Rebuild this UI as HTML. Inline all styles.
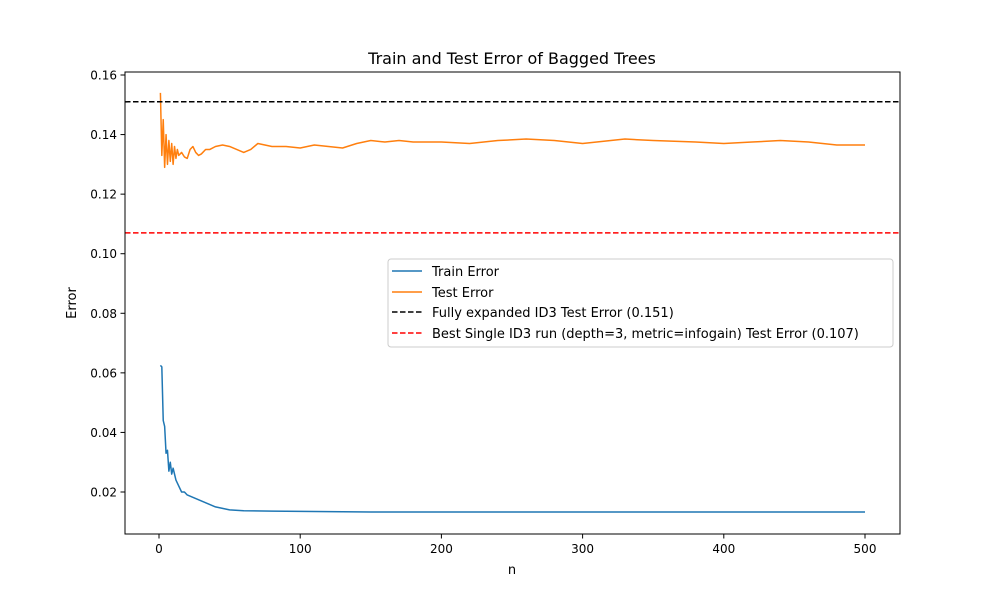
<!DOCTYPE html>
<html><head><meta charset="utf-8"><style>
body{margin:0;background:#fff;font-family:"Liberation Sans","DejaVu Sans",sans-serif}
svg text{font-family:"DejaVu Sans","Liberation Sans",sans-serif}
</style></head><body>
<svg id="chart" width="1000" height="600" xmlns="http://www.w3.org/2000/svg">
<rect width="1000" height="600" fill="#fff"/>
<text x="512" y="64" font-size="16" text-anchor="middle">Train and Test Error of Bagged Trees</text>
<g id="plot"></g>
<rect x="125" y="72" width="775" height="462" fill="none" stroke="#000" stroke-width="1"/>
<text x="512" y="574" font-size="13" text-anchor="middle">n</text>
<text x="76" y="303" font-size="13" text-anchor="middle" transform="rotate(-90 76 303)">Error</text>
<g>
<rect x="388" y="259" width="505" height="88" rx="3" fill="#fff" fill-opacity="0.8" stroke="#ccc"/>
<g><line x1="392" x2="422" y1="271" y2="271" stroke="#1f77b4" stroke-width="1.5"/><text x="432" y="276" font-size="13">Train Error</text></g>
<g><line x1="392" x2="422" y1="292" y2="292" stroke="#ff7f0e" stroke-width="1.5"/><text x="432" y="297" font-size="13">Test Error</text></g>
<g><line x1="392" x2="422" y1="312" y2="312" stroke="#000" stroke-width="1.5" stroke-dasharray="5.5,2.5"/><text x="432" y="317" font-size="13">Fully expanded ID3 Test Error (0.151)</text></g>
<g><line x1="392" x2="422" y1="333" y2="333" stroke="#f00" stroke-width="1.5" stroke-dasharray="5.5,2.5"/><text x="432" y="338" font-size="13">Best Single ID3 run (depth=3, metric=infogain) Test Error (0.107)</text></g>
</g>
</svg>
<script>
const xTicks=[0,100,200,300,400,500];
const yTicks=[0.02,0.04,0.06,0.08,0.10,0.12,0.14,0.16];
const yTickLabels=["0.02","0.04","0.06","0.08","0.10","0.12","0.14","0.16"];
const trainN=[1,2,3,4,5,6,7,8,9,10,12,14,16,18,20,25,30,35,40,45,50,60,80,100,120,150,200,300,400,500];
const trainErr=[0.0625,0.062,0.044,0.042,0.033,0.034,0.027,0.030,0.026,0.028,0.024,0.022,0.020,0.020,0.019,0.018,0.017,0.016,0.015,0.0145,0.014,0.0137,0.0136,0.0135,0.0134,0.0133,0.0133,0.0133,0.0133,0.0133];
const testN=[1,2,3,4,5,6,7,8,9,10,11,12,13,14,16,18,20,22,24,26,28,30,33,36,40,45,50,55,60,65,70,75,80,90,100,110,120,130,140,150,160,170,180,200,220,240,260,280,300,320,330,350,380,400,420,440,460,480,500];
const testErr=[0.154,0.133,0.145,0.129,0.140,0.130,0.138,0.131,0.137,0.130,0.136,0.132,0.135,0.133,0.134,0.1325,0.132,0.135,0.136,0.134,0.133,0.1335,0.135,0.135,0.136,0.1365,0.136,0.135,0.134,0.135,0.137,0.1365,0.136,0.136,0.1355,0.1365,0.136,0.1355,0.137,0.138,0.1375,0.138,0.1375,0.1375,0.137,0.138,0.1385,0.138,0.137,0.138,0.1385,0.138,0.1375,0.137,0.1375,0.138,0.1375,0.1365,0.1365];
const fullId3=0.151, bestId3=0.107;
const NS="http://www.w3.org/2000/svg";
const X=v=>159+(v-0)*(865-159)/500;
const Y=v=>492-(v-0.02)*(492-75)/0.14;
const g=document.getElementById('plot');
function mk(t,a){const e=document.createElementNS(NS,t);for(const k in a)e.setAttribute(k,a[k]);g.appendChild(e);return e;}
xTicks.forEach(t=>{
 const l=mk('line',{x1:X(t),x2:X(t),y1:534,y2:538.5,stroke:'#000'});
 
 
 const tx=mk('text',{x:X(t),y:553,'font-size':12,'text-anchor':'middle'});tx.textContent=t;
 
 
});
yTicks.forEach((t,i)=>{
 const l=mk('line',{x1:120.5,x2:125,y1:Y(t),y2:Y(t),stroke:'#000'});
 
 
 const tx=mk('text',{x:117,y:Y(t)+4.5,'font-size':12,'text-anchor':'end'});tx.textContent=yTickLabels[i];
 
 
});
function line(ns,vs,c,name){
 const p=mk('polyline',{points:ns.map((n,i)=>X(n)+','+Y(vs[i])).join(' '),fill:'none',stroke:c,'stroke-width':1.5,'stroke-linejoin':'round'});
 
 
}
line(trainN,trainErr,'#1f77b4','train-error-line');
line(testN,testErr,'#ff7f0e','test-error-line');
const h1=mk('line',{x1:125,x2:900,y1:Y(fullId3),y2:Y(fullId3),stroke:'#000','stroke-width':1.5,'stroke-dasharray':'5.5,2.5'});


const h2=mk('line',{x1:125,x2:900,y1:Y(bestId3),y2:Y(bestId3),stroke:'#f00','stroke-width':1.5,'stroke-dasharray':'5.5,2.5'});


</script>
</body></html>
